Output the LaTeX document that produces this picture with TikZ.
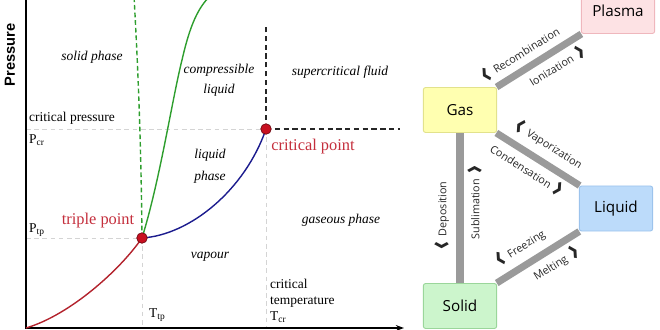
\documentclass[tikz,border=0pt]{standalone}
\usepackage{fontspec}
\setmainfont{Liberation Serif}
\newfontfamily\labelfont{Open Sans}
\newfontfamily\axisfont{Liberation Sans}
\usetikzlibrary{positioning,arrows.meta}
\definecolor{curvered}{HTML}{B3232D}
\definecolor{pointred}{HTML}{C81020}
\definecolor{textred}{HTML}{C42E3C}
\definecolor{curveblue}{HTML}{1C1C8E}
\definecolor{curvegreen}{HTML}{2E9E2E}
\definecolor{guidegray}{HTML}{D4D4D4}
\definecolor{linkgray}{HTML}{9A9A9A}
\definecolor{plasmafill}{HTML}{FDE2E4}
\definecolor{plasmaline}{HTML}{EFB7BD}
\definecolor{gasfill}{HTML}{FFFFB0}
\definecolor{gasline}{HTML}{E2E28C}
\definecolor{liquidfill}{HTML}{BCDBFA}
\definecolor{liquidline}{HTML}{9CC3EC}
\definecolor{solidfill}{HTML}{CCF5CC}
\definecolor{solidline}{HTML}{9AD69A}

\newcommand\chevl{\smash{\raisebox{-3.5pt}{\scalebox{1.3}[1.95]{\bfseries\fontsize{14}{14}\selectfont ‹}}}\enspace}
\newcommand\chevr{\enspace\smash{\raisebox{-3.5pt}{\scalebox{1.3}[1.95]{\bfseries\fontsize{14}{14}\selectfont ›}}}}

\tikzset{
  phasetext/.style={font=\fontsize{11.5}{17}\selectfont\itshape, align=center, inner sep=0pt},
  axistext/.style={font=\fontsize{11.5}{13.6}\selectfont, align=left, anchor=west, inner sep=0pt},
  pointtext/.style={font=\fontsize{14}{16}\selectfont, text=textred, inner sep=0pt},
  guide/.style={guidegray, dash pattern=on 4pt off 3pt, line width=0.8pt},
  boundary/.style={black!85, dash pattern=on 4.5pt off 3pt, line width=1.1pt},
  phasepoint/.style={circle, fill=pointred, draw=pointred!55!black, line width=0.6pt, inner sep=0pt, minimum size=9pt},
  statebox/.style={draw, line width=0.8pt, rounded corners=2pt, minimum width=2.2cm, minimum height=1.35cm, font=\labelfont\fontsize{13}{15}\selectfont},
  link/.style={linkgray, line width=6pt},
  linktext/.style={font=\labelfont\fontsize{9.2}{10}\selectfont, text=black!85, sloped, inner sep=1.5pt},
}

\begin{document}
\begin{tikzpicture}[x=0.03cm,y=0.03cm]
\useasboundingbox (0,0) rectangle (660,330);

% pressure / temperature diagram
\coordinate (origin) at (26,2);
\coordinate (triple) at (142,92);
\coordinate (critical) at (266,201);

\draw[guide] (26,201) -- (critical);
\draw[guide] (26,92) -- (triple);
\draw[guide] (triple) -- (142,2);
\draw[guide] (critical) -- (266,2);
\draw[boundary] (critical) -- (266,305);
\draw[boundary] (critical) -- (400,201);

\draw[line width=1.4pt, -{Stealth[length=7pt,width=5pt]}] (26,332) -- (origin) -- (404,2);
\node[font=\axisfont\bfseries\fontsize{12.5}{14}\selectfont, rotate=90] (ylabel) at (10,275) {Pressure};

\draw[curvered, line width=1.2pt] (origin) .. controls (70,15) and (120,60) .. (triple);
\draw[curveblue, line width=1.2pt] (triple) .. controls (190,95) and (245,140) .. (critical);
\draw[curvegreen, line width=1.2pt] (triple) .. controls (160,150) and (172,230) .. (182,270)
  .. controls (190,305) and (198,322) .. (210,334);
\draw[curvegreen, line width=1.2pt, dash pattern=on 4pt off 2.5pt] (triple) .. controls (141,200) and (137,280) .. (134,334);

\node[phasepoint] (tp) at (triple) {};
\node[phasepoint] (cp) at (critical) {};

\node[phasetext] (solidphase) at (92,273) {solid phase};
\node[phasetext] (compliquid) at (219,250) {compressible\\liquid};
\node[phasetext] (superfluid) at (340,258) {supercritical fluid};
\node[phasetext, font=\fontsize{11.5}{18.5}\selectfont\itshape] (liqphase) at (210,164) {liquid\\phase};
\node[phasetext] (gasphase) at (341,110) {gaseous phase};
\node[phasetext] (vapour) at (210,73) {vapour};

\node[pointtext] (cptext) at (313,183) {critical point};
\node[pointtext] (tptext) at (98,109) {triple point};

\node[axistext] (pcrtext) at (29,212) {critical pressure};
\node[axistext] (pcr) at (29,190) {P\textsubscript{cr}};
\node[axistext] (ptp) at (29,100) {P\textsubscript{tp}};
\node[axistext] (ttp) at (149,15) {T\textsubscript{tp}};
\node[axistext] (tcr) at (270,29) {critical\\temperature\\T\textsubscript{cr}};

% states of matter
\node[statebox, fill=plasmafill, draw=plasmaline] (plasma) at (618,319) {Plasma};
\node[statebox, fill=gasfill, draw=gasline] (gas) at (460,220) {Gas};
\node[statebox, fill=liquidfill, draw=liquidline] (liquid) at (616,121.5) {Liquid};
\node[statebox, fill=solidfill, draw=solidline] (solid) at (460,24) {Solid};

\draw[link] (gas) -- (plasma)
  node[linktext, above=5pt, pos=0.38] {\chevl Recombination}
  node[linktext, below=5pt, pos=0.62] {Ionization\chevr};
\draw[link] (gas) -- (liquid)
  node[linktext, above=5pt, pos=0.52] {\chevl Vaporization}
  node[linktext, below=5pt, pos=0.46] {Condensation\chevr};
\draw[link] (solid) -- (gas)
  node[linktext, above=5pt, pos=0.45] {\chevl Deposition}
  node[linktext, below=5pt, pos=0.535] {Sublimation\chevr};
\draw[link] (solid) -- (liquid)
  node[linktext, above=5pt, pos=0.40] {\chevl Freezing}
  node[linktext, below=5pt, pos=0.62] {Melting\chevr};
\end{tikzpicture}
\end{document}
